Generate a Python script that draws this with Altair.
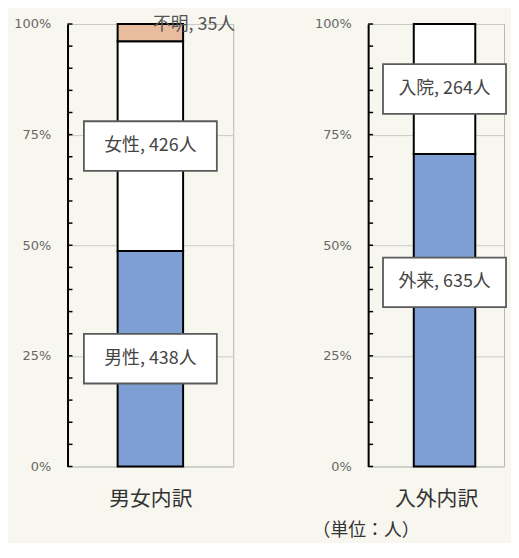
import altair as alt
import pandas as pd

# ---- data ----
sex_cats = ["男性", "女性", "不明"]
sex_counts = [438, 426, 35]
sex_colors = ["#7d9fd3", "#ffffff", "#e9bc9f"]

visit_cats = ["外来", "入院"]
visit_counts = [635, 264]
visit_colors = ["#7d9fd3", "#ffffff"]

tick_values = [0, 0.05, 0.10, 0.15, 0.20, 0.25, 0.30, 0.35, 0.40, 0.45, 0.50,
               0.55, 0.60, 0.65, 0.70, 0.75, 0.80, 0.85, 0.90, 0.95, 1.0]
grid_values = [0, 0.25, 0.5, 0.75, 1.0]

panel_titles = ["男女内訳", "入外内訳"]
unit_note = "（単位：人）"

FONT_JP = "Noto Sans CJK JP"
FONT_NUM = "DejaVu Sans"


def box_path(w, h):
    r = h / w
    return f"M-1,-{r:.4f}L1,-{r:.4f}L1,{r:.4f}L-1,{r:.4f}Z"


def panel(title, cats, counts, colors, width, bar_size, box_w, scale_kw,
          plain=(), shifts=None):
    shifts = shifts or {}
    df = pd.DataFrame({
        "panel": title,
        "cat": cats,
        "count": counts,
        "order": list(range(len(cats))),
    })
    df["label"] = [f"{c}, {n}人" for c, n in zip(cats, counts)]
    base = alt.Chart(df).transform_stack(
        stack="count", groupby=["panel"], as_=["y0", "y1"],
        offset="normalize", sort=[alt.SortField("order")]
    ).transform_calculate(mid="(datum.y0 + datum.y1) / 2")

    xenc = alt.X("panel:N",
                 scale=alt.Scale(paddingInner=0, **scale_kw),
                 axis=alt.Axis(title=title, labels=False, ticks=False, domain=False,
                               titleFont=FONT_JP, titleFontSize=21, titleFontWeight="normal",
                               titleColor="#333", titlePadding=22))
    yscale = alt.Scale(domain=[0, 1])

    bars = base.mark_bar(size=bar_size, stroke="black", strokeWidth=2).encode(
        x=xenc,
        y=alt.Y("y0:Q", scale=yscale,
                axis=alt.Axis(values=grid_values, format=".0%", title=None,
                              grid=True, gridColor="#c9c9c9", ticks=False,
                              domainColor="black", domainWidth=2,
                              labelFont=FONT_NUM, labelFontSize=13, labelColor="#666",
                              labelPadding=17)),
        y2="y1:Q",
        color=alt.Color("cat:N", scale=alt.Scale(domain=cats, range=colors), legend=None),
    )

    ticks = alt.Chart(pd.DataFrame({"v": tick_values})).mark_rule(
        color="black", strokeWidth=1.5).encode(
        y=alt.Y("v:Q", scale=yscale), x=alt.value(0), x2=alt.value(5))

    layers = [bars, ticks]
    boxed = [c for c in cats if c not in plain]
    for c in boxed:
        dy = shifts.get(c, 0)
        sub = base.transform_filter(alt.datum.cat == c)
        layers.append(sub.mark_point(shape=box_path(box_w, 50), size=box_w * box_w,
                                     filled=True, fill="white", opacity=1,
                                     stroke="#5a5a5a", strokeWidth=1.8,
                                     yOffset=dy).encode(
            x="panel:N", y="mid:Q"))
        layers.append(sub.mark_text(font=FONT_JP, fontSize=18, color="#444", dy=dy).encode(
            x="panel:N", y="mid:Q", text="label:N"))
    for c in plain:
        sub = base.transform_filter(alt.datum.cat == c)
        layers.append(sub.mark_text(font=FONT_JP, fontSize=18, color="#555",
                                    dx=44, dy=-8).encode(
            x="panel:N", y="mid:Q", text="label:N"))

    return alt.layer(*layers).properties(width=width, height=446)


left = panel(panel_titles[0], sex_cats, sex_counts, sex_colors, 167, 66, 134,
             {"paddingOuter": 0.5}, plain=("不明",))
right = panel(panel_titles[1], visit_cats, visit_counts, visit_colors, 137, 62, 124,
              {"paddingOuter": 0.5, "align": 0.624}, shifts={"外来": -28}).properties(
    title=alt.TitleParams(unit_note, orient="bottom", anchor="start", frame="group",
                          dx=-56, font=FONT_JP, fontSize=18, fontWeight="normal",
                          color="#333", offset=13))

chart = alt.hconcat(left, right, spacing=136, bounds="flush").properties(
    padding={"left": 5, "top": 5, "right": 0, "bottom": 0},
    background="#f8f7ef",
).configure_view(stroke="#b5b5b5", strokeWidth=1)

chart.save("out.html", embed_options={"renderer": "svg", "actions": False})
